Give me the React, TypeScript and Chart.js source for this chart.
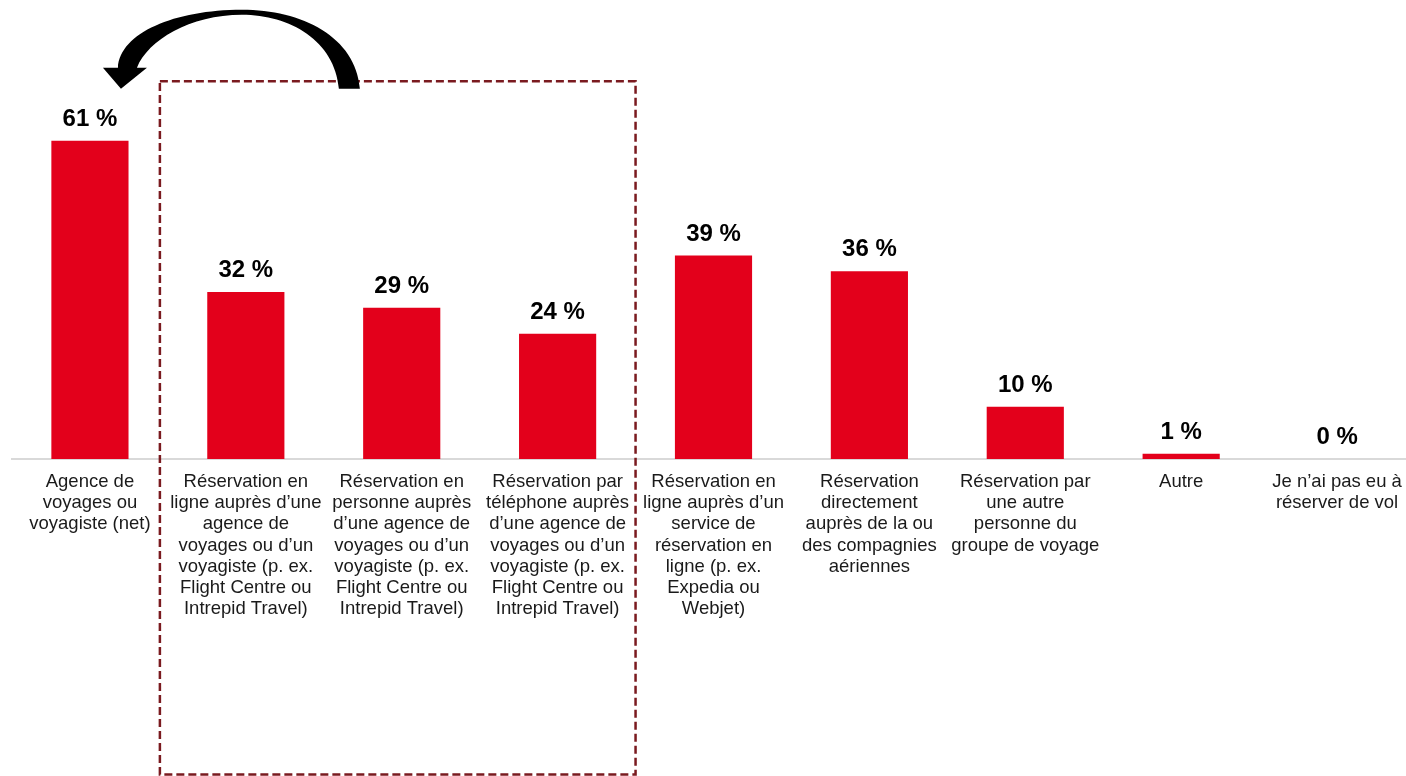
import React, { useEffect, useRef } from "react";
import { Chart, registerables } from "chart.js";

Chart.register(...registerables);

const categories: string[][] = [
  ["Agence de", "voyages ou", "voyagiste (net)"],
  ["Réservation en", "ligne auprès d’une", "agence de", "voyages ou d’un", "voyagiste (p. ex.", "Flight Centre ou", "Intrepid Travel)"],
  ["Réservation en", "personne auprès", "d’une agence de", "voyages ou d’un", "voyagiste (p. ex.", "Flight Centre ou", "Intrepid Travel)"],
  ["Réservation par", "téléphone auprès", "d’une agence de", "voyages ou d’un", "voyagiste (p. ex.", "Flight Centre ou", "Intrepid Travel)"],
  ["Réservation en", "ligne auprès d’un", "service de", "réservation en", "ligne (p. ex.", "Expedia ou", "Webjet)"],
  ["Réservation", "directement", "auprès de la ou", "des compagnies", "aériennes"],
  ["Réservation par", "une autre", "personne du", "groupe de voyage"],
  ["Autre"],
  ["Je n’ai pas eu à", "réserver de vol"],
];

const values: number[] = [61, 32, 29, 24, 39, 36, 10, 1, 0];

const BAR_RED = "#E3001B";
const FONT = "Arial, 'Liberation Sans', sans-serif";

const overlayPlugin = {
  id: "overlay",
  afterDatasetsDraw(chart: any) {
    const ctx = chart.ctx;
    const meta = chart.getDatasetMeta(0);
    ctx.save();
    ctx.font = `bold 24px ${FONT}`;
    ctx.fillStyle = "#000000";
    ctx.textAlign = "center";
    ctx.textBaseline = "alphabetic";
    meta.data.forEach((bar: any, i: number) => {
      ctx.fillText(`${values[i]} %`, bar.x, bar.y - 15);
    });
    ctx.restore();
  },
  afterDraw(chart: any) {
    const ctx = chart.ctx;
    const xs = chart.scales.x;
    const ys = chart.scales.y;
    // dashed frame around the three agency sub-categories
    const left = (xs.getPixelForValue(0) + xs.getPixelForValue(1)) / 2 - 8;
    const right = (xs.getPixelForValue(3) + xs.getPixelForValue(4)) / 2;
    const top = ys.getPixelForValue(72.4);
    const bottom = chart.height - 1.5;
    ctx.save();
    ctx.strokeStyle = "#7A1A1F";
    ctx.lineWidth = 2.5;
    ctx.setLineDash([8, 4]);
    ctx.strokeRect(left, top, right - left, bottom - top);
    ctx.restore();

    // curved arrow from the frame back to the net bar
    const tipX = xs.getPixelForValue(0) + 31;
    const baseY = top + 7.5;
    const tailR = left + 200;
    const tailL = tailR - 21;
    const peakX = tailR - 118;
    ctx.save();
    ctx.fillStyle = "#000000";
    ctx.beginPath();
    ctx.moveTo(tailL, baseY);
    ctx.lineTo(tailR, baseY);
    ctx.bezierCurveTo(tailR - 4, baseY - 52, tailR - 58, baseY - 79, peakX, baseY - 79);
    ctx.bezierCurveTo(peakX - 67, baseY - 79, peakX - 122, baseY - 56, tipX - 3, baseY - 21);
    ctx.lineTo(tipX - 18, baseY - 21);
    ctx.lineTo(tipX, baseY);
    ctx.lineTo(tipX + 26, baseY - 21);
    ctx.lineTo(tipX + 16, baseY - 21);
    ctx.bezierCurveTo(tipX + 27, baseY - 48.5, peakX - 52, baseY - 74, peakX, baseY - 74);
    ctx.bezierCurveTo(peakX + 48, baseY - 74, tailL - 4, baseY - 48, tailL, baseY);
    ctx.closePath();
    ctx.fill();
    ctx.restore();
  },
};

export default function App() {
  const canvasRef = useRef<HTMLCanvasElement | null>(null);

  useEffect(() => {
    if (!canvasRef.current) return;
    const chart = new Chart(canvasRef.current, {
      type: "bar",
      data: {
        labels: categories,
        datasets: [
          {
            data: values,
            backgroundColor: BAR_RED,
            borderWidth: 0,
            barPercentage: 0.495,
            categoryPercentage: 1,
          },
        ],
      },
      options: {
        animation: false,
        responsive: true,
        maintainAspectRatio: false,
        layout: { padding: { left: 12, right: 5, top: 0, bottom: 0 } },
        plugins: {
          legend: { display: false },
          tooltip: { enabled: false },
        },
        scales: {
          x: {
            grid: { display: false, drawTicks: false },
            border: { display: true, color: "#D9D9D9", width: 2 },
            ticks: {
              color: "#1A1A1A",
              font: { family: FONT, size: 18.5, lineHeight: 1.15 },
              padding: 12,
              maxRotation: 0,
              autoSkip: false,
            },
            afterFit: (scale: any) => {
              scale.height = 317;
            },
          },
          y: {
            display: false,
            min: 0,
            max: 88,
          },
        },
      },
      plugins: [overlayPlugin],
    });
    return () => chart.destroy();
  }, []);

  return (
    <div style={{ position: "fixed", left: 0, top: 0, width: 1406, height: 776, overflow: "hidden", background: "#ffffff" }}>
      <div style={{ position: "absolute", left: 0, top: 0, width: 1420, height: 776 }}>
        <canvas ref={canvasRef} />
      </div>
    </div>
  );
}
